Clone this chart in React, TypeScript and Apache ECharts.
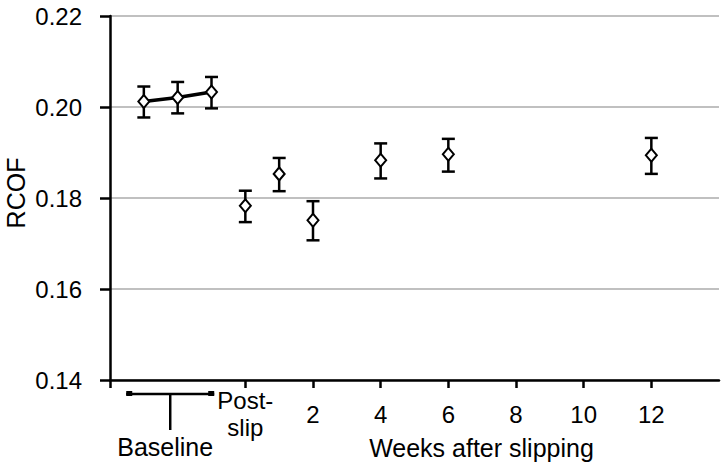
import React, { useEffect, useRef } from "react";
import * as echarts from "echarts";

const baselinePos = [0.5, 1, 1.5];
const baselineMean = [0.2012, 0.2021, 0.2033];
const baselineLow = [0.1977, 0.1986, 0.1997];
const baselineHigh = [0.2045, 0.2055, 0.2066];

const postPos = [2, 2.5, 3, 4, 5, 8];
const postMean = [0.1783, 0.1853, 0.1751, 0.1883, 0.1896, 0.1894];
const postLow = [0.1747, 0.1815, 0.1707, 0.1843, 0.1858, 0.1853];
const postHigh = [0.1816, 0.1888, 0.1793, 0.192, 0.193, 0.1932];

const tickPos = [2, 3, 4, 5, 6, 7, 8];
const tickLabels = ["Post-\nslip", "2", "4", "6", "8", "10", "12"];

const baselineSpan = [0.24, 1.54];
const baselineStem = 0.89;

const FONT = "Liberation Sans, Arial, sans-serif";

export default function App() {
  const ref = useRef<HTMLDivElement>(null);
  useEffect(() => {
    if (!ref.current) return;
    const chart = echarts.init(ref.current, null, { renderer: "svg" });
    const errData = [
      ...baselinePos.map((x, i) => [x, baselineLow[i], baselineHigh[i]]),
      ...postPos.map((x, i) => [x, postLow[i], postHigh[i]]),
    ];
    const option: any = {
      animation: false,
      backgroundColor: "#fff",
      grid: { left: 110, right: 7, top: 16, bottom: 87, containLabel: false, outerBoundsMode: "none" },
      xAxis: {
        type: "value",
        min: 0,
        max: 9,
        interval: 1,
        name: "Weeks after slipping",
        nameLocation: "middle",
        nameGap: 55,
        nameMoveOverlap: false,
        nameTextStyle: { fontFamily: FONT, fontSize: 25, color: "#000", padding: [0, 0, 0, 134] },
        axisLine: { show: true, onZero: false, lineStyle: { color: "#000", width: 2.5 } },
        axisTick: { show: true, length: 8, customValues: [0, ...tickPos], lineStyle: { color: "#000", width: 2.5 } },
        axisLabel: {
          customValues: tickPos,
          margin: 34,
          verticalAlign: "middle",
          fontFamily: FONT,
          fontSize: 24,
          color: "#000",
          lineHeight: 27,
          formatter: (v: number) => {
            const idx = tickPos.indexOf(v);
            return idx >= 0 ? tickLabels[idx] : "";
          },
        },
        splitLine: { show: false },
      },
      yAxis: {
        type: "value",
        min: 0.14,
        max: 0.22,
        interval: 0.02,
        name: "RCOF",
        nameLocation: "middle",
        nameGap: 82,
        nameMoveOverlap: false,
        nameTextStyle: { fontFamily: FONT, fontSize: 25, color: "#000", padding: [0, 0, 0, 10] },
        axisLine: { show: true, lineStyle: { color: "#000", width: 2.5 } },
        axisTick: { show: true, length: 10, lineStyle: { color: "#000", width: 2.5 } },
        axisLabel: {
          margin: 28,
          fontFamily: FONT,
          fontSize: 24,
          color: "#000",
          formatter: (v: number) => v.toFixed(2),
        },
        splitLine: { show: true, lineStyle: { color: "#c0c0c0", width: 2 } },
      },
      series: [
        {
          type: "custom",
          z: 1,
          data: errData,
          renderItem: (params: any, api: any) => {
            const x = api.value(0);
            const top = api.coord([x, api.value(2)]);
            const bot = api.coord([x, api.value(1)]);
            const hw = 6.5;
            const st = { stroke: "#000", lineWidth: 2.5 };
            return {
              type: "group",
              children: [
                { type: "line", shape: { x1: top[0], y1: top[1], x2: bot[0], y2: bot[1] }, style: st },
                { type: "line", shape: { x1: top[0] - hw, y1: top[1], x2: top[0] + hw, y2: top[1] }, style: st },
                { type: "line", shape: { x1: bot[0] - hw, y1: bot[1], x2: bot[0] + hw, y2: bot[1] }, style: st },
              ],
            };
          },
        },
        {
          type: "line",
          z: 3,
          data: baselinePos.map((x, i) => [x, baselineMean[i]]),
          symbol: "diamond",
          symbolSize: [11, 13],
          lineStyle: { color: "#000", width: 3.5 },
          itemStyle: { color: "#fff", borderColor: "#000", borderWidth: 2 },
        },
        {
          type: "scatter",
          z: 3,
          data: postPos.map((x, i) => [x, postMean[i]]),
          symbol: "diamond",
          symbolSize: [11, 13],
          itemStyle: { color: "#fff", borderColor: "#000", borderWidth: 2, opacity: 1 },
        },
        {
          type: "custom",
          clip: false,
          silent: true,
          data: [[baselineSpan[0], baselineSpan[1], baselineStem]],
          renderItem: (params: any, api: any) => {
            const a = api.coord([api.value(0), 0.14]);
            const b = api.coord([api.value(1), 0.14]);
            const s = api.coord([api.value(2), 0.14]);
            const y = a[1] + 14;
            const st = { stroke: "#000", lineWidth: 2.5 };
            return {
              type: "group",
              children: [
                { type: "line", shape: { x1: a[0], y1: y, x2: b[0], y2: y }, style: st },
                { type: "rect", shape: { x: a[0], y: y - 3, width: 6, height: 5 }, style: { fill: "#000" } },
                { type: "rect", shape: { x: b[0] - 6, y: y - 3, width: 6, height: 5 }, style: { fill: "#000" } },
                { type: "line", shape: { x1: s[0], y1: y, x2: s[0], y2: y + 36 }, style: st },
                {
                  type: "text",
                  x: s[0] - 5,
                  y: y + 53,
                  style: {
                    text: "Baseline",
                    fontFamily: FONT,
                    fontSize: 25,
                    fill: "#000",
                    align: "center",
                    verticalAlign: "middle",
                  },
                },
              ],
            };
          },
        },
      ],
    };
    chart.setOption(option);
    return () => chart.dispose();
  }, []);
  return (
    <div
      ref={ref}
      style={{ position: "fixed", left: 0, top: 0, width: 726, height: 467, background: "#fff" }}
    />
  );
}
